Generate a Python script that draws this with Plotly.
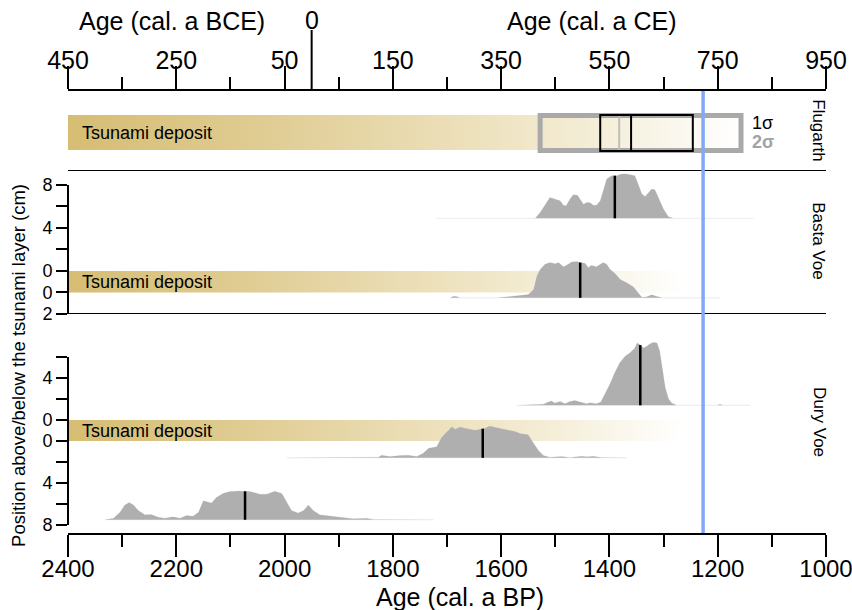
import numpy as np
import plotly.graph_objects as go

# ------------------------------------------------------------------ data
BP_TICKS = [2400, 2200, 2000, 1800, 1600, 1400, 1200, 1000]
BP_MINOR = [2300, 2100, 1900, 1700, 1500, 1300, 1100]
CE_TICKS = [-450, -250, -50, 150, 350, 550, 750, 950]
CE_TICK_LABELS = ["450", "250", "50", "150", "350", "550", "750", "950"]
CE_MINOR = [-350, -150, 50, 250, 450, 650, 850]

EVENT_BP = 1227          # blue vertical line

# Flugarth age model (cal a BP)
FLUG_2SIGMA = [1528, 1157]
FLUG_1SIGMA = [1417, 1246]
FLUG_MEDIAN = 1360
FLUG_MEAN = 1382

# y tick values (plot cm, band occupies 0 .. -2) and labels
BASTA_TICKVALS = [8, 6, 4, 2, 0, -2, -4]
BASTA_TICKTEXT = ["8", "", "4", "", "0", "0", "2"]
DURY_TICKVALS = [6, 4, 2, 0, -2, -4, -6, -8, -10]
DURY_TICKTEXT = ["", "4", "", "0", "0", "", "4", "", "8"]

# Basta Voe: sample positions (cm, + above / - below tsunami layer)
BASTA_POS = [4.9, -0.5]
BASTA_MEDIANS = [1390, 1454]
BASTA_U_BP = [1720, 1537, 1528, 1516, 1510, 1504, 1497, 1491, 1485, 1480,
              1473, 1467, 1459, 1454, 1448, 1442, 1436, 1430, 1424, 1417,
              1411, 1405, 1396, 1387, 1377, 1368, 1359, 1353, 1347, 1340,
              1334, 1328, 1322, 1316, 1310, 1300, 1291, 1282, 1134]
BASTA_U_P = [0, 0, .089, .245, .323, .307, .286, .271, .203, .193,
             .297, .365, .359, .297, .219, .245, .245, .203, .203, .271,
             .453, .609, .661, .661, .6875, .6875, .672, .661, .531, .375,
             .339, .401, .453, .443, .323, .141, .026, 0, 0]
BASTA_L_BP = [1694, 1688, 1682, 1676, 1608, 1590, 1565, 1550, 1540, 1534,
              1528, 1519, 1510, 1500, 1494, 1485, 1476, 1470, 1460, 1454,
              1445, 1439, 1433, 1424, 1417, 1411, 1405, 1399, 1390, 1380,
              1368, 1356, 1347, 1340, 1331, 1322, 1313, 1303, 1196]
BASTA_L_P = [0, .026, .02, 0, 0, .016, .036, .052, .13, .34,
             .44, .52, .547, .53, .547, .484, .52, .557, .5625, .547,
             .536, .469, .505, .484, .52, .547, .52, .443, .38, .286,
             .234, .172, .078, .01, .016, .047, .026, 0, 0]

# Dury Voe
DURY_POS = [1.4, -1.6, -7.5]
DURY_MEDIANS = [1343, 1634, 2073]
DURY_U_BP = [1571, 1522, 1513, 1507, 1501, 1491, 1482, 1473, 1464, 1454,
             1442, 1436, 1424, 1416, 1408, 1399, 1390, 1381, 1371, 1362,
             1353, 1349, 1344, 1337, 1331, 1325, 1318, 1312, 1307, 1302,
             1297, 1291, 1285, 1276, 1200, 1196, 1190, 1140]
DURY_U_P = [0, .016, .052, .068, .036, .0625, .026, .0625, .078, .052,
            .026, .042, .026, .052, .182, .339, .521, .677, .781, .833,
            .911, .99, .964, .911, .9375, .979, 1.0, .99, .859, .547,
            .286, .104, .036, 0, 0, .016, 0, 0]
DURY_M_BP = [1996, 1827, 1821, 1805, 1787, 1771, 1756, 1744, 1734, 1719,
             1710, 1701, 1691, 1685, 1676, 1667, 1658, 1648, 1630, 1621,
             1608, 1596, 1584, 1574, 1565, 1550, 1541, 1531, 1522, 1510,
             1488, 1473, 1451, 1442, 1430, 1414, 1368]
DURY_M_P = [0, .01, .042, .021, .036, .042, .021, .073, .151, .177,
            .323, .401, .495, .453, .49, .469, .453, .4375, .469, .505,
            .479, .453, .4375, .417, .385, .365, .245, .115, .036, .01,
            .021, .005, .026, .016, .026, .005, 0]
DURY_L_BP = [2332, 2316, 2304, 2295, 2287, 2279, 2270, 2258, 2246, 2233,
             2221, 2206, 2193, 2181, 2169, 2159, 2150, 2144, 2135, 2126,
             2113, 2101, 2085, 2064, 2045, 2033, 2018, 2005, 1996, 1987,
             1975, 1965, 1956, 1947, 1935, 1916, 1898, 1873, 1848, 1836,
             1725]
DURY_L_P = [0, .026, .12, .234, .276, .234, .146, .078, .083, .042,
            .026, .047, .026, .068, .057, .12, .302, .286, .266, .354,
            .422, .448, .458, .448, .406, .406, .453, .417, .276, .146,
            .109, .146, .234, .146, .078, .057, .042, .016, .026, .005,
            0]

# ------------------------------------------------------------------ style
FONT = "Arial, Liberation Sans, sans-serif"
BAND_CM = 2.0          # plotted thickness of tsunami layer
DENS_SCALE = 6.0       # cm of plot height per density unit
DIST_COLOR = "#afafaf"
BAND_SCALE = [[0, "rgb(214,189,115)"], [0.3, "rgb(224,205,148)"],
              [0.6, "rgb(237,225,188)"], [0.8, "rgb(245,239,218)"],
              [1, "rgb(255,255,255)"]]
BAND_END = 1260
FLUG_BAND_END = 1157
FLUG_BAND = [21, 56]

fig = go.Figure()


def add_band(yaxis, y0, y1, x_end):
    fig.add_trace(go.Scatter(
        x=[BP_TICKS[0], x_end, x_end, BP_TICKS[0], BP_TICKS[0]],
        y=[y0, y0, y1, y1, y0], fill="toself", mode="none",
        fillgradient=dict(type="horizontal", colorscale=BAND_SCALE,
                          start=BP_TICKS[0], stop=x_end),
        xaxis="x", yaxis=yaxis, hoverinfo="skip", showlegend=False))


def plot_u(pos):
    return pos if pos >= 0 else pos - BAND_CM


def add_dist(bp, p, pos, median, yaxis):
    base = plot_u(pos)
    ys = [base + v * DENS_SCALE for v in p]
    fig.add_trace(go.Scatter(
        x=list(bp) + [bp[0]], y=ys + [base], fill="toself", mode="lines",
        line=dict(color="rgba(175,175,175,0.18)", width=0.8),
        fillcolor=DIST_COLOR, xaxis="x", yaxis=yaxis,
        hoverinfo="skip", showlegend=False))
    top = base + np.interp(median, bp[::-1], p[::-1]) * DENS_SCALE
    fig.add_trace(go.Scatter(
        x=[median, median], y=[base, top], mode="lines",
        line=dict(color="black", width=2.5), xaxis="x", yaxis=yaxis,
        hoverinfo="skip", showlegend=False))


# tsunami bands
add_band("y", FLUG_BAND[0], FLUG_BAND[1], FLUG_BAND_END)
add_band("y2", -BAND_CM, 0, BAND_END)
add_band("y3", -BAND_CM, 0, BAND_END)

# distributions
add_dist(BASTA_U_BP, BASTA_U_P, BASTA_POS[0], BASTA_MEDIANS[0], "y2")
add_dist(BASTA_L_BP, BASTA_L_P, BASTA_POS[1], BASTA_MEDIANS[1], "y2")
add_dist(DURY_U_BP, DURY_U_P, DURY_POS[0], DURY_MEDIANS[0], "y3")
add_dist(DURY_M_BP, DURY_M_P, DURY_POS[1], DURY_MEDIANS[1], "y3")
add_dist(DURY_L_BP, DURY_L_P, DURY_POS[2], DURY_MEDIANS[2], "y3")

# dummy trace so the top (CE) axis is drawn
fig.add_trace(go.Scatter(x=[CE_TICKS[0]], y=[-100], mode="markers",
                         marker=dict(opacity=0), xaxis="x2", yaxis="y",
                         hoverinfo="skip", showlegend=False))

# ------------------------------------------------------------------ shapes
BLACK = dict(color="black", width=2)
shapes = [
    # panel separators
    dict(type="line", xref="paper", yref="y", x0=0, x1=1, y0=0, y1=0, line=BLACK),
    dict(type="line", xref="paper", yref="y2", x0=0, x1=1, y0=-4, y1=-4, line=BLACK),
    # y axis lines
    dict(type="line", xref="paper", yref="y2", x0=0, x1=0, y0=-4, y1=8, line=BLACK),
    dict(type="line", xref="paper", yref="y3", x0=0, x1=0, y0=-10, y1=6, line=BLACK),
    # year 0 tick
    dict(type="line", xref="x2", yref="paper", x0=0, x1=0, y0=1, y1=1.138, line=BLACK),
    # Flugarth age model
    dict(type="rect", xref="x", yref="y", x0=FLUG_2SIGMA[0], x1=FLUG_2SIGMA[1],
         y0=20.5, y1=55.5, line=dict(color="#a9a9a9", width=5)),
    dict(type="line", xref="x", yref="y", x0=FLUG_MEAN, x1=FLUG_MEAN,
         y0=20, y1=56, line=dict(color="#bdbdbd", width=2)),
    dict(type="rect", xref="x", yref="y", x0=FLUG_1SIGMA[0], x1=FLUG_1SIGMA[1],
         y0=20, y1=56, line=BLACK),
    dict(type="line", xref="x", yref="y", x0=FLUG_MEDIAN, x1=FLUG_MEDIAN,
         y0=20, y1=56, line=BLACK),
    # event line
    dict(type="line", xref="x", yref="paper", x0=EVENT_BP, x1=EVENT_BP,
         y0=0, y1=1, line=dict(color="#82a9f7", width=3.5), layer="above"),
]

# ------------------------------------------------------------------ annotations
def ann(text, x, y, xref="paper", yref="paper", size=18, **kw):
    color = kw.pop("color", "black")
    kw.setdefault("xanchor", "center")
    kw.setdefault("yanchor", "middle")
    return dict(text=text, x=x, y=y, xref=xref, yref=yref, showarrow=False,
                font=dict(family=FONT, size=size, color=color), **kw)

annotations = [
    ann("Age (cal. a BCE)", 0.137, 1.158, size=25),
    ann("Age (cal. a CE)", 0.691, 1.158, size=25),
    ann("0", 0, 1.161, xref="x2", size=25),
    ann("Age (cal. a BP)", 0.517, -0.145, size=25),
    ann("Position above/below the tsunami layer (cm)", -0.0646, 0.378,
        size=18.5, textangle=-90),
    ann("Tsunami deposit", 0.0158, sum(FLUG_BAND) / 2, yref="y", xanchor="left"),
    ann("Tsunami deposit", 0.0158, -BAND_CM / 2, yref="y2", xanchor="left"),
    ann("Tsunami deposit", 0.0158, -BAND_CM / 2, yref="y3", xanchor="left"),
    ann("1σ", 0.90, 48, yref="y", xanchor="left", size=18, yanchor="middle"),
    ann("<b>2σ</b>", 0.90, 29.5, yref="y", xanchor="left", size=18,
        color="#a3a3a3"),
    ann("Flugarth", 0.989, 0.912, size=17, textangle=90),
    ann("Basta Voe", 0.989, 0.661, size=17, textangle=90),
    ann("Dury Voe", 0.992, 0.251, size=17, textangle=90),
]

# ------------------------------------------------------------------ layout
tick_common = dict(showgrid=False, zeroline=False, ticks="outside",
                   tickcolor="black", tickwidth=2, automargin=False)

fig.update_layout(
    width=852, height=610,
    margin=dict(l=68, r=26, t=91, b=77, autoexpand=False),
    plot_bgcolor="white", paper_bgcolor="white",
    showlegend=False,
    font=dict(family=FONT, color="black"),
    xaxis=dict(domain=[0, 1], anchor="y3", range=[2400, 1000],
               showline=True, linecolor="black", linewidth=2,
               tickvals=BP_TICKS, ticktext=[str(v) for v in BP_TICKS],
               ticklen=22, tickfont=dict(size=24, family=FONT),
               ticklabelstandoff=-9, ticklabeloverflow="allow",
               minor=dict(tickvals=BP_MINOR, ticklen=12, tickwidth=2,
                          tickcolor="black", ticks="outside"),
               **tick_common),
    xaxis2=dict(overlaying="x", anchor="y", side="top", range=[-450, 950],
                showline=True, linecolor="black", linewidth=2,
                tickvals=CE_TICKS, ticktext=CE_TICK_LABELS,
                ticklen=23, tickfont=dict(size=25, family=FONT),
                ticklabelstandoff=-13, ticklabeloverflow="allow",
                minor=dict(tickvals=CE_MINOR, ticklen=12, tickwidth=2,
                           tickcolor="black", ticks="outside"),
                **tick_common),
    yaxis=dict(domain=[0.819, 1], range=[0, 80], showticklabels=False,
               ticks="", showgrid=False, zeroline=False, showline=False,
               automargin=False),
    yaxis2=dict(domain=[0.49548, 0.819], range=[-4, 9.3],
                tickvals=BASTA_TICKVALS, ticktext=BASTA_TICKTEXT, ticklen=11,
                tickfont=dict(size=18, family=FONT), showline=False,
                **tick_common),
    yaxis3=dict(domain=[0, 0.49548], range=[-10.76, 10.1],
                tickvals=DURY_TICKVALS, ticktext=DURY_TICKTEXT, ticklen=11,
                tickfont=dict(size=18, family=FONT), showline=False,
                **tick_common),
    shapes=shapes,
    annotations=annotations,
)

# remove the browser's default 8px body margin so the figure sits at (0, 0)
fig.write_html("out.html",
               config={"displayModeBar": False},
               post_script="document.body.style.margin='0';"
                           "document.body.style.overflow='hidden';")
